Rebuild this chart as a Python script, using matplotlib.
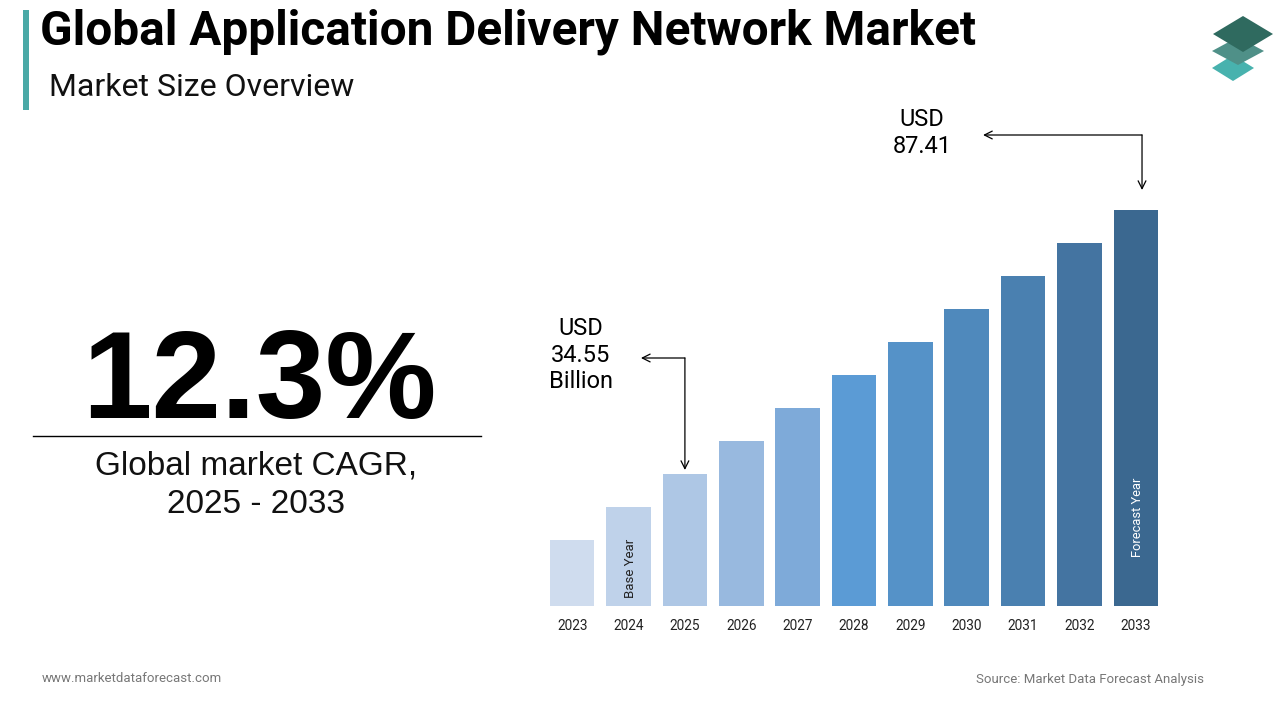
import matplotlib
matplotlib.use("Agg")
import matplotlib.pyplot as plt
from matplotlib.patches import Polygon, Rectangle

years = ["2023", "2024", "2025", "2026", "2027", "2028", "2029", "2030", "2031", "2032", "2033"]
# bar heights as drawn in the picture (relative units)
bar_heights = [66, 99, 132, 165, 198, 231, 264, 297, 330, 363, 396]
bar_colors = ["#cfdcee", "#bfd2ea", "#aec7e5", "#98b9df", "#7eaad9", "#5b9bd5",
              "#5592c8", "#4f89bc", "#4a80b0", "#4474a1", "#3b6890"]
title = "Global Application Delivery Network Market"
subtitle = "Market Size Overview"
cagr_text = "12.3%"
cagr_label = "Global market CAGR,\n2025 - 2033"
start_label = "USD\n34.55\nBillion"
end_label = "USD\n87.41"
base_idx, fore_idx = 1, 10

W, H = 1280, 720
fig = plt.figure(figsize=(12.8, 7.2), dpi=100)
bg = fig.add_axes([0, 0, 1, 1])
bg.set_xlim(0, W)
bg.set_ylim(H, 0)
bg.axis("off")

# header
bg.add_patch(Rectangle((23, 10), 6, 100, color="#4aa9a6", lw=0))
bg.text(40, 32, title, fontsize=34.4, fontweight="bold", family="Roboto",
        va="center", ha="left", color="#000000")
bg.text(49, 88, subtitle, fontsize=23, family="Roboto", va="center", ha="left", color="#111111")

# logo
def diamond(cx, cy, hw, hh, color):
    bg.add_patch(Polygon([(cx - hw, cy), (cx, cy - hh), (cx + hw, cy), (cx, cy + hh)],
                         closed=True, color=color, lw=0))
diamond(1233, 68, 21, 13, "#48b2ae")
diamond(1238, 51, 26, 14, "#4f9088")
diamond(1243, 34, 30, 18, "#2f6a5f")

# KPI
bg.text(259, 418, cagr_text, fontsize=90, fontweight="bold", family="Liberation Sans",
        ha="center", va="baseline", color="#000000")
bg.plot([33, 481], [436, 436], color="#000000", lw=1)
bg.text(256, 485, cagr_label, fontsize=24, family="Liberation Sans", ha="center",
        va="center", color="#111111", linespacing=1.3)

# footer
bg.text(42, 679, "www.marketdataforecast.com", fontsize=9.5, family="Roboto",
        color="#777777", ha="left", va="center")
bg.text(1204, 679, "Source: Market Data Forecast Analysis", fontsize=9.5, family="Roboto",
        color="#777777", ha="right", va="center")

# bars
ax = fig.add_axes([544 / W, (H - 606) / H, 620 / W, 396 / H])
x = list(range(len(years)))
ax.bar(x, bar_heights, width=0.79, color=bar_colors, lw=0)
ax.set_xlim(-0.5, len(years) - 0.5)
ax.set_ylim(0, max(bar_heights))
ax.set_xticks(x)
ax.set_xticklabels(years, fontsize=9.8, family="Roboto", color="#222222")
ax.tick_params(axis="x", length=0, pad=9)
ax.set_yticks([])
for s in ax.spines.values():
    s.set_visible(False)
ax.patch.set_alpha(0)

ax.text(base_idx + 0.03, 38, "Base Year", rotation=90, fontsize=9.5, family="Roboto",
        ha="center", va="center", color="#222222")
ax.text(fore_idx + 0.03, 89, "Forecast Year", rotation=90, fontsize=9.3, family="Roboto",
        ha="center", va="center", color="#ffffff")

arrow_kw = dict(arrowstyle="->", color="#000000", lw=0.9, shrinkA=0, shrinkB=0,
                mutation_scale=14)
# start annotation (2025)
i0 = 2
cy0 = 248
ax.annotate("", xy=(1.22, cy0), xytext=(i0, cy0), arrowprops=arrow_kw, annotation_clip=False)
ax.annotate("", xy=(i0, bar_heights[i0] + 4), xytext=(i0, cy0), arrowprops=arrow_kw,
            annotation_clip=False)
ax.text(0.157, 251, start_label, fontsize=17, family="Roboto", ha="center", va="center",
        linespacing=1.2, color="#000000", clip_on=False)

# end annotation (2033)
i1 = 10
cy1 = 471
ax.annotate("", xy=(7.29, cy1), xytext=(10.11, cy1), arrowprops=arrow_kw, annotation_clip=False)
ax.annotate("", xy=(10.11, 416), xytext=(10.11, cy1), arrowprops=arrow_kw,
            annotation_clip=False)
ax.text(6.21, 473, end_label, fontsize=17, family="Roboto", ha="center", va="center",
        linespacing=1.2, color="#000000", clip_on=False)

fig.savefig("out.png", dpi=100)
